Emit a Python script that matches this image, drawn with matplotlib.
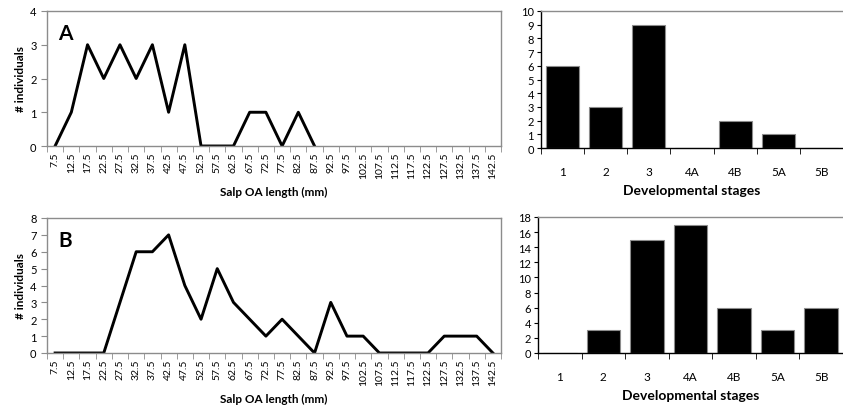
import numpy as np
import matplotlib
matplotlib.use("Agg")
import matplotlib.pyplot as plt

plt.rcParams['font.family'] = ['Lato', 'DejaVu Sans']

lengths = ["7.5", "12.5", "17.5", "22.5", "27.5", "32.5", "37.5", "42.5", "47.5", "52.5",
           "57.5", "62.5", "67.5", "72.5", "77.5", "82.5", "87.5", "92.5", "97.5", "102.5",
           "107.5", "112.5", "117.5", "122.5", "127.5", "132.5", "137.5", "142.5"]
counts_A = [0, 1, 3, 2, 3, 2, 3, 1, 3, 0, 0, 0, 1, 1, 0, 1, 0]
counts_B = [0, 0, 0, 0, 3, 6, 6, 7, 4, 2, 5, 3, 2, 1, 2, 1, 0, 3, 1, 1, 0, 0, 0, 0, 1, 1, 1, 0]
stages = ["1", "2", "3", "4A", "4B", "5A", "5B"]
stage_A = [6, 3, 9, 0, 2, 1, 0]
stage_B = [0, 3, 15, 17, 6, 3, 6]

W, H = 843, 410
fig = plt.figure(figsize=(W / 100, H / 100), dpi=100)

def ax_px(l, t, r, b):
    return fig.add_axes([l / W, 1 - b / H, (r - l) / W, (b - t) / H])

gray = '#8c8c8c'

def line_panel(ax, vals, ymax, letter):
    x = np.arange(len(vals))
    ax.plot(x, vals, color='black', lw=2.1)
    ax.set_xlim(-0.5, len(lengths) - 0.5)
    ax.set_ylim(0, ymax)
    ax.set_xticks(np.arange(len(lengths)))
    ax.set_xticklabels(lengths, rotation=90, fontsize=7.5)
    ax.set_xticks(np.arange(len(lengths) + 1) - 0.5, minor=True)
    ax.tick_params(axis='x', which='major', length=0, pad=4)
    ax.tick_params(axis='x', which='minor', length=4, color=gray, direction='out')
    ax.set_yticks(range(0, ymax + 1, 1))
    ax.tick_params(axis='y', labelsize=8, length=4, color=gray, direction='out')
    for s in ax.spines.values():
        s.set_color(gray)
        s.set_linewidth(1)
    ax.set_ylabel('# individuals', fontweight='bold', fontsize=8.5, labelpad=3)
    ax.set_xlabel('Salp OA length (mm)', fontweight='bold', fontsize=8.5, labelpad=6)
    ax.text(0.025, 0.84, letter, transform=ax.transAxes, fontsize=15, fontweight='bold',
            va='center', ha='left')

def bar_panel(ax, vals, ymax, step):
    x = np.arange(len(vals))
    ax.bar(x, vals, width=0.77, color='black', edgecolor=gray, linewidth=0.8)
    ax.set_xlim(-0.5, len(stages) - 0.5)
    ax.set_ylim(0, ymax)
    ax.set_xticks(x)
    ax.set_xticklabels(stages, fontsize=8.5)
    ax.set_xticks(np.arange(len(stages) + 1) - 0.5, minor=True)
    ax.tick_params(axis='x', which='major', length=0, pad=13)
    ax.tick_params(axis='x', which='minor', length=4, color='black', direction='out')
    ax.set_yticks(range(0, ymax + 1, step))
    ax.tick_params(axis='y', labelsize=8, length=3, color='black', direction='out', pad=2)
    for s in ax.spines.values():
        s.set_color(gray)
        s.set_linewidth(1)
    ax.spines['bottom'].set_color('black')
    ax.spines['left'].set_color('black')
    ax.spines['right'].set_visible(False)
    ax.set_xlabel('Developmental stages', fontweight='bold', fontsize=10, labelpad=5)

axA = ax_px(47, 12, 501, 147)
line_panel(axA, counts_A, 4, 'A')
axB = ax_px(47, 219, 501, 354)
line_panel(axB, counts_B, 8, 'B')

bA = ax_px(541, 12, 843, 149)
bar_panel(bA, stage_A, 10, 1)
bB = ax_px(538, 218, 843, 354)
bar_panel(bB, stage_B, 18, 2)

fig.savefig('out.png', dpi=100)
